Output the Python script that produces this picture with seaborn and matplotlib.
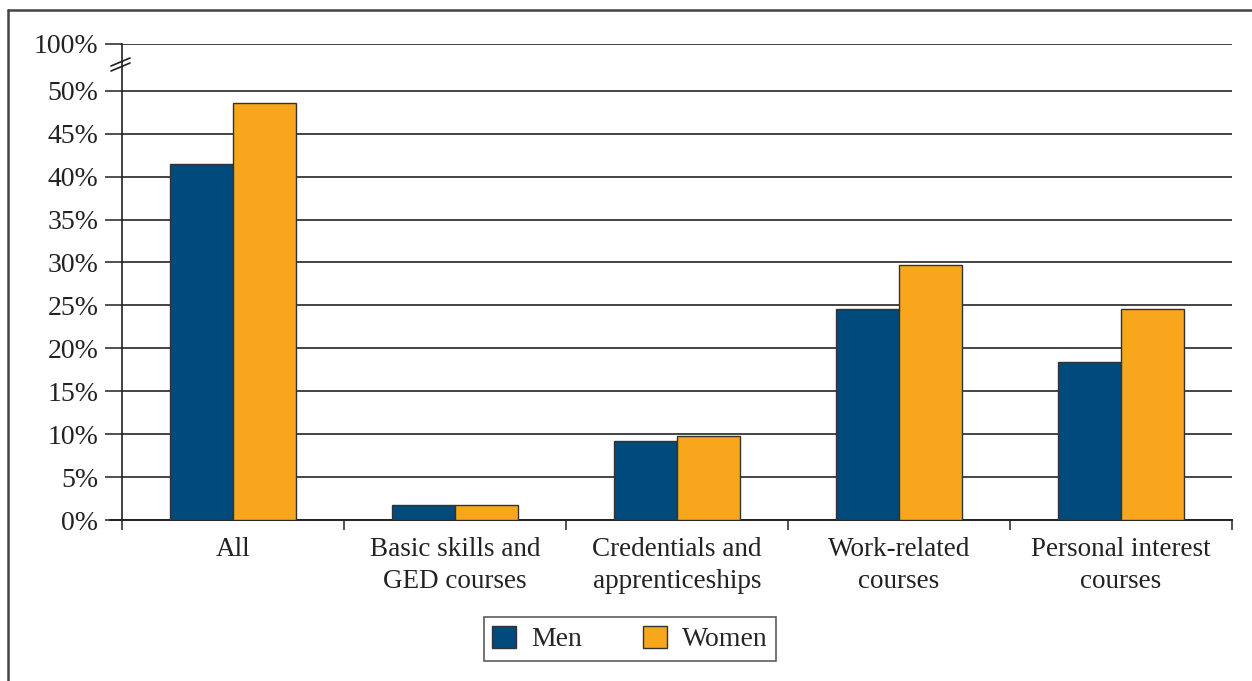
import matplotlib
matplotlib.use("Agg")
import matplotlib.pyplot as plt
import seaborn as sns
import pandas as pd
from matplotlib.lines import Line2D
from matplotlib.patches import Patch

categories = ["All", "Basic skills and\nGED courses", "Credentials and\napprenticeships",
              "Work-related\ncourses", "Personal interest\ncourses"]
men = [41.5, 1.8, 9.2, 24.6, 18.4]
women = [48.6, 1.8, 9.8, 29.7, 24.6]
series = ["Men", "Women"]
ytick_values = [0, 5, 10, 15, 20, 25, 30, 35, 40, 45, 50, 55.5]
ytick_labels = ["0%", "5%", "10%", "15%", "20%", "25%", "30%", "35%", "40%", "45%", "50%", "100%"]

colors = {"Men": "#004A7C", "Women": "#F8A61C"}

df = pd.DataFrame({
    "category": categories * 2,
    "value": men + women,
    "series": ["Men"] * len(categories) + ["Women"] * len(categories),
})

sns.set_style("white")
plt.rcParams["font.family"] = ["Liberation Serif", "DejaVu Serif"]

fig = plt.figure(figsize=(12.52, 6.81), dpi=100)
ax = fig.add_axes([122 / 1252, 1 - 520 / 681, (1232 - 122) / 1252, (520 - 43.5) / 681])

sns.barplot(data=df, x="category", y="value", hue="series", palette=colors,
            saturation=1, width=0.57, order=categories, hue_order=series, ax=ax,
            edgecolor="#333333", linewidth=1.0, legend=False, zorder=3)

ax.set_ylim(0, 55.5)
ax.set_xlim(-0.5, len(categories) - 0.5)
ax.set_yticks(ytick_values)
ax.set_yticklabels(ytick_labels)
ax.yaxis.grid(True, color="#444444", linewidth=1.4, zorder=0)
ax.set_axisbelow(True)
ax.set_xlabel("")
ax.set_ylabel("")

for s in ["top", "right"]:
    ax.spines[s].set_visible(False)
ax.spines["left"].set_color("#222222")
ax.spines["left"].set_linewidth(1.2)
ax.spines["bottom"].set_color("#222222")
ax.spines["bottom"].set_linewidth(1.4)

ax.tick_params(axis="y", direction="out", length=12, width=1.2, color="#333333",
               labelsize=20, pad=5, left=True, labelcolor="#222222")
ax.set_xticks(range(len(categories)))
ax.set_xticklabels(categories, linespacing=1.4)
ax.set_xticks([i - 0.5 for i in range(len(categories) + 1)], minor=True)
ax.tick_params(axis="x", which="major", length=0, labelsize=19.5, pad=12, labelcolor="#222222")
ax.tick_params(axis="x", which="minor", direction="out", length=7, width=1.2,
               color="#333333", bottom=True)

# extend zero line leftwards like the other gridlines
ax.plot([-0.5 - 12 / 222, -0.5], [0, 0], color="#222222", lw=1.4, clip_on=False)

# axis break marks
for dy in (0, 5):
    fig.add_artist(Line2D([111 / 1252, 130 / 1252],
                          [1 - (70 + dy - 4) / 681, 1 - (62 + dy - 4) / 681],
                          color="#222222", lw=1.2))

# legend
handles = [Patch(facecolor=colors[s], edgecolor="#333333", linewidth=1.0, label=s) for s in series]
leg = fig.legend(handles=handles, loc="center", bbox_to_anchor=(630 / 1252, 1 - 639 / 681),
                 ncol=2, frameon=True, fontsize=20, handlelength=0.85, handleheight=0.85,
                 columnspacing=2.2, handletextpad=0.55, borderpad=0.3, borderaxespad=0,
                 fancybox=False)
leg.get_frame().set_edgecolor("#333333")
leg.get_frame().set_linewidth(1.2)

# outer frame (top and left visible)
fig.add_artist(Line2D([8 / 1252, 1.0], [1 - 10 / 681, 1 - 10 / 681], color="#444444", lw=1.8))
fig.add_artist(Line2D([8 / 1252, 8 / 1252], [0, 1 - 10 / 681], color="#444444", lw=1.8))

fig.savefig("out.png", dpi=100)
